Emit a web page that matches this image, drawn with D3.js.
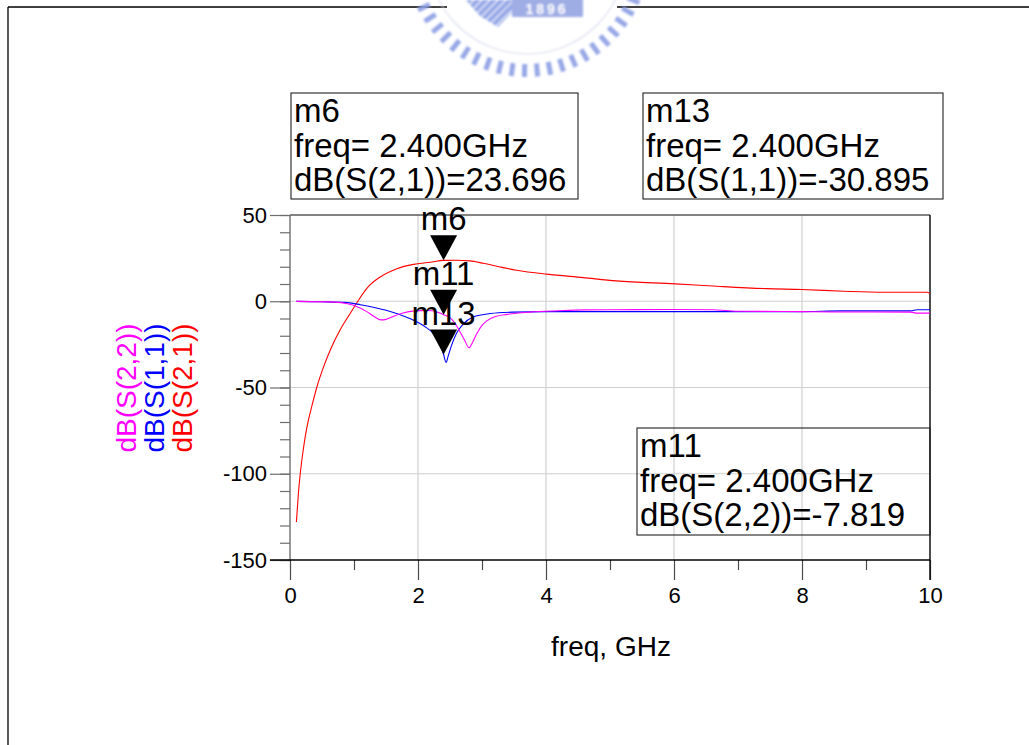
<!DOCTYPE html>
<html>
<head>
<meta charset="utf-8">
<script src="https://cdn.jsdelivr.net/npm/d3@7"></script>
<style>
  body { margin: 0; background: #fff; }
  svg { display: block; font-family: "Liberation Sans", Arial, Helvetica, sans-serif; }
</style>
</head>
<body>
<svg id="chart" width="1029" height="745"></svg>
<script>
// ---- S-parameter sweep data (freq in GHz, magnitude in dB) ----
const freqS21 = [0.1, 0.13, 0.16, 0.2, 0.24, 0.29, 0.34, 0.42, 0.52, 0.65, 0.78, 0.94, 1.07, 1.22, 1.41, 1.67, 1.93, 2.19, 2.4, 2.6, 2.81, 3.02, 3.28, 3.54, 4.01, 4.58, 5.1, 6.02, 6.67, 7.45, 8.0, 8.65, 9.27, 9.95, 10.0];
const dbS21   = [-128, -112, -100, -88, -78, -68.5, -61, -49.7, -38.5, -26.5, -16.8, -7.1, 0.6, 8.3, 14.1, 18.9, 21.4, 22.6, 23.696, 23.8, 23.4, 22, 19.9, 18, 15.7, 13.7, 11.8, 10.1, 8.7, 7.3, 6.8, 5.8, 5.2, 5.2, 4.4];

const freqS11 = [0.1, 0.5, 0.9, 1.1, 1.3, 1.5, 1.7, 1.9, 2.1, 2.25, 2.33, 2.4, 2.44, 2.47, 2.52, 2.6, 2.7, 2.86, 3.13, 3.5, 4.0, 5.0, 6.0, 7.0, 8.0, 8.6, 9.7, 9.8, 10.0];
const dbS11   = [-0.1, -0.3, -0.8, -2, -3.5, -5.2, -7.5, -10.5, -14.5, -19, -23, -30.895, -35.5, -32, -26, -18.7, -13.5, -9.1, -7.1, -6.3, -6, -6, -6, -6, -6, -5.6, -5.6, -4.9, -4.9];

const freqS22 = [0.1, 0.7, 0.9, 1.04, 1.2, 1.3, 1.42, 1.5, 1.6, 1.75, 1.95, 2.15, 2.3, 2.4, 2.5, 2.58, 2.66, 2.72, 2.8, 2.85, 2.92, 3.0, 3.07, 3.2, 3.4, 3.75, 4.2, 4.6, 5.0, 6.0, 6.6, 7.0, 8.0, 8.5, 9.7, 9.8, 10.0];
const dbS22   = [-0.1, -0.5, -1.5, -3, -6, -8.5, -10.8, -10.5, -9, -7, -5.6, -5.4, -6.2, -7.819, -9.5, -12.9, -18, -22, -27, -24, -18.7, -14, -11.5, -9, -7.6, -6.3, -5.5, -5.0, -4.9, -4.8, -4.9, -5.8, -6, -6.2, -6.3, -6.9, -6.9];

const traceNames  = ["dB(S(2,2))", "dB(S(1,1))", "dB(S(2,1))"];
const traceColors = ["#ff00ff", "#0000ff", "#ff0000"];

const xTickValues = [0, 2, 4, 6, 8, 10];
const xMinorTicks = [1, 3, 5, 7, 9];
const yTickValues = [50, 0, -50, -100, -150];
const xGridValues = [2, 4, 6, 8];
const yGridValues = [0, -50, -100];

// marker readouts: name, frequency, trace and value reported
const markerNames  = ["m13", "m11", "m6"];
const markerFreqs  = [2.4, 2.4, 2.4];
const markerTraces = ["dB(S(1,1))", "dB(S(2,2))", "dB(S(2,1))"];
const markerValues = [-30.895, -7.819, 23.696];
const markerValueText = ["-30.895", "-7.819", "23.696"];

// ---- layout ----
const svg = d3.select("#chart");
const x = d3.scaleLinear().domain([0, 10]).range([290, 930]);
const y = d3.scaleLinear().domain([-150, 50]).range([560, 215]);

const defs = svg.append("defs");
defs.append("filter").attr("id", "soft")
  .append("feGaussianBlur").attr("stdDeviation", 0.8);

// page frame
svg.append("line").attr("x1", 8).attr("y1", 7).attr("x2", 1029).attr("y2", 7)
  .attr("stroke", "#000").attr("stroke-width", 1.3);
svg.append("line").attr("x1", 8).attr("y1", 7).attr("x2", 8).attr("y2", 745)
  .attr("stroke", "#000").attr("stroke-width", 1.3);

// ---- emblem at the top of the page ----
const emblem = svg.append("g");
emblem.append("rect").attr("x", 447).attr("y", 0).attr("width", 170).attr("height", 16).attr("fill", "#fff");
const eg = emblem.append("g").attr("filter", "url(#soft)").attr("opacity", 0.9);
const ecx = 527, ecy = -45;
eg.append("circle").attr("cx", ecx).attr("cy", ecy).attr("r", 99)
  .attr("fill", "none").attr("stroke", "#d6daec").attr("stroke-width", 1.1);
d3.range(23, 158, 6.2).forEach(a => {
  const r = a * Math.PI / 180;
  eg.append("line")
    .attr("x1", ecx + 109 * Math.cos(r)).attr("y1", ecy + 109 * Math.sin(r))
    .attr("x2", ecx + 122 * Math.cos(r)).attr("y2", ecy + 122 * Math.sin(r))
    .attr("stroke", "#8c9ee4").attr("stroke-width", 5);
});
eg.append("rect").attr("x", 512).attr("y", -2).attr("width", 71).attr("height", 19).attr("fill", "#95a5e3");
eg.append("text").attr("x", 547).attr("y", 14).attr("text-anchor", "middle")
  .attr("fill", "#fff").attr("font-size", 14).attr("font-weight", "bold").attr("letter-spacing", 3)
  .text("1896");
defs.append("clipPath").attr("id", "flag")
  .append("path").attr("d", "M466,0 L512,0 L512,12 L498,27 L480,16 Z");
const hatch = eg.append("g").attr("clip-path", "url(#flag)");
d3.range(430, 540, 8).forEach(s => {
  hatch.append("line").attr("x1", s).attr("y1", 32).attr("x2", s + 36).attr("y2", -4)
    .attr("stroke", "#8c9ee4").attr("stroke-width", 4.5);
});

// ---- grid ----
const grid = svg.append("g");
grid.selectAll(".gx").data(xGridValues).join("line")
  .attr("x1", d => x(d)).attr("x2", d => x(d)).attr("y1", y(50)).attr("y2", y(-150))
  .attr("stroke", "#cfcfcf").attr("stroke-width", 1.2);
grid.selectAll(".gy").data(yGridValues).join("line")
  .attr("x1", x(0)).attr("x2", x(10)).attr("y1", d => y(d)).attr("y2", d => y(d))
  .attr("stroke", "#cfcfcf").attr("stroke-width", 1.2);

// ---- axes ----
const plain = d => String(d);
const yAxisMinor = d3.axisLeft(y).tickValues(d3.range(-150, 51, 10)).tickSize(10).tickFormat("");
const yAxisMajor = d3.axisLeft(y).tickValues(yTickValues).tickSize(20).tickPadding(3).tickFormat(plain);
const gyMinor = svg.append("g").attr("transform", `translate(${x(0)},0)`).call(yAxisMinor);
const gyMajor = svg.append("g").attr("transform", `translate(${x(0)},0)`).call(yAxisMajor);
[gyMinor, gyMajor].forEach(g => {
  g.select(".domain").remove();
  g.selectAll("line").attr("stroke", "#6e6e6e").attr("stroke-width", 1.2);
});
gyMajor.selectAll("text").attr("font-size", 22).attr("fill", "#000")
  .attr("font-family", "Liberation Sans, Arial, sans-serif");

const xAxisMinor = d3.axisBottom(x).tickValues(xMinorTicks).tickSize(10).tickFormat("");
const xAxisMajor = d3.axisBottom(x).tickValues(xTickValues).tickSize(20).tickPadding(7).tickFormat(plain);
const gxMinor = svg.append("g").attr("transform", `translate(0,${y(-150)})`).call(xAxisMinor);
const gxMajor = svg.append("g").attr("transform", `translate(0,${y(-150)})`).call(xAxisMajor);
[gxMinor, gxMajor].forEach(g => {
  g.select(".domain").remove();
  g.selectAll("line").attr("stroke", "#4a4a4a").attr("stroke-width", 1.2);
});
gxMajor.selectAll("text").attr("font-size", 22).attr("fill", "#000")
  .attr("font-family", "Liberation Sans, Arial, sans-serif");

// plot frame: top and left gray, bottom and right black
svg.append("line").attr("x1", x(0)).attr("x2", x(10)).attr("y1", y(50)).attr("y2", y(50))
  .attr("stroke", "#5a5a5a").attr("stroke-width", 1.4);
svg.append("line").attr("x1", x(0)).attr("x2", x(0)).attr("y1", y(50)).attr("y2", y(-150))
  .attr("stroke", "#6e6e6e").attr("stroke-width", 1.4);
svg.append("line").attr("x1", x(0) - 20).attr("x2", x(10)).attr("y1", y(-150)).attr("y2", y(-150))
  .attr("stroke", "#000").attr("stroke-width", 1.4);
svg.append("line").attr("x1", x(10)).attr("x2", x(10)).attr("y1", y(50)).attr("y2", y(-150) + 20)
  .attr("stroke", "#000").attr("stroke-width", 1.4);

// axis titles
svg.append("text").attr("x", 611).attr("y", 656).attr("text-anchor", "middle")
  .attr("font-size", 28).attr("fill", "#000").text("freq, GHz");
const titleX = [136, 164, 192];
traceNames.forEach((t, i) => {
  svg.append("text")
    .attr("transform", `translate(${titleX[i]},388) rotate(-90)`)
    .attr("text-anchor", "middle").attr("font-size", 28)
    .attr("fill", traceColors[i]).text(t);
});

// ---- traces ----
const line = d3.line().x(d => x(d[0])).y(d => y(d[1])).curve(d3.curveMonotoneX);
const traces = [
  { f: freqS21, v: dbS21, color: "#ff0000" },
  { f: freqS11, v: dbS11, color: "#0000ff" },
  { f: freqS22, v: dbS22, color: "#ff00ff" }
];
traces.forEach(t => {
  svg.append("path")
    .datum(d3.zip(t.f, t.v))
    .attr("d", line)
    .attr("fill", "none").attr("stroke", t.color).attr("stroke-width", 1.1);
});

// ---- markers ----
const mk = svg.append("g");
markerNames.forEach((name, i) => {
  const px = x(markerFreqs[i]), py = y(markerValues[i]);
  mk.append("text").attr("x", px).attr("y", py - 30).attr("text-anchor", "middle")
    .attr("font-size", 33).attr("fill", "#000").text(name);
  mk.append("path")
    .attr("d", `M${px},${py} L${px - 13.5},${py - 25} L${px + 13.5},${py - 25} Z`)
    .attr("fill", "#000");
});

// readout boxes
const boxPos = { m6: [291, 93, 287, 106], m13: [643, 93, 300, 106], m11: [637, 428, 293, 107] };
markerNames.forEach((name, i) => {
  const [bx, by, bw, bh] = boxPos[name];
  const g = svg.append("g");
  g.append("rect").attr("x", bx).attr("y", by).attr("width", bw).attr("height", bh)
    .attr("fill", "none").attr("stroke", "#222").attr("stroke-width", 1.1);
  const lines = [name, `freq= ${markerFreqs[i].toFixed(3)}GHz`, `${markerTraces[i]}=${markerValueText[i]}`];
  const offs = [29, 64, 98];
  lines.forEach((s, j) => {
    g.append("text").attr("x", bx + 3).attr("y", by + offs[j])
      .attr("font-size", 33).attr("fill", "#000").text(s);
  });
});
</script>
</body>
</html>
